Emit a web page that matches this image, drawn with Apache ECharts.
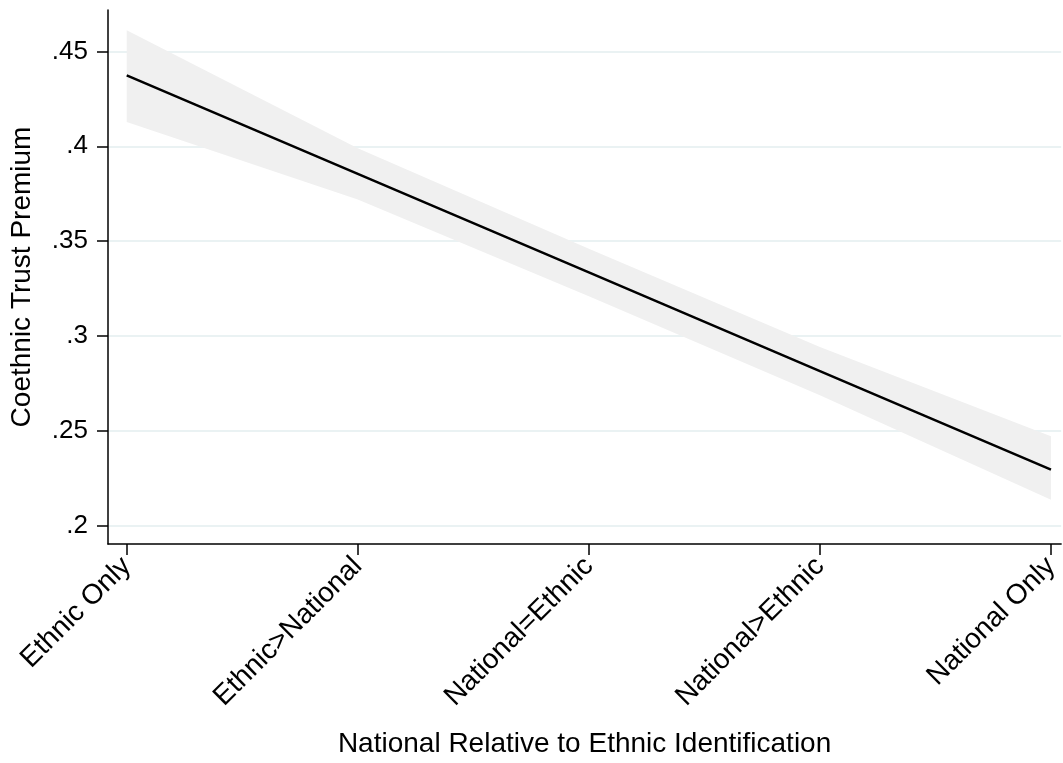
<!DOCTYPE html>
<html>
<head>
<meta charset="utf-8">
<script src="https://cdn.jsdelivr.net/npm/echarts@6/dist/echarts.min.js"></script>
<style>
html,body{margin:0;padding:0;background:#fff;}
#chart{width:1063px;height:763px;}
</style>
</head>
<body>
<div id="chart"></div>
<script>
// Data
var categories = ["Ethnic Only", "Ethnic>National", "National=Ethnic", "National>Ethnic", "National Only"];
var positions = [0, 1, 2, 3, 4];
var predicted = [0.4374, 0.3854, 0.3335, 0.2815, 0.2296];
var ciLower = [0.4128, 0.3719, 0.3210, 0.2688, 0.2137];
var ciUpper = [0.4611, 0.3989, 0.3460, 0.2942, 0.2472];
var yTickValues = [0.2, 0.25, 0.3, 0.35, 0.4, 0.45];
var yTickLabels = [".2", ".25", ".3", ".35", ".4", ".45"];

var FONT = "'Liberation Sans', Arial, Helvetica, sans-serif";

var lineData = positions.map(function (p, i) { return [p, predicted[i]]; });
var bandData = positions.map(function (p, i) { return [p, ciLower[i], ciUpper[i]]; });

var chart = echarts.init(document.getElementById('chart'), null, {renderer: 'canvas'});
chart.setOption({
  animation: false,
  backgroundColor: '#ffffff',
  grid: {left: 108, right: 0, top: 10, bottom: 211, containLabel: false},
  xAxis: {
    type: 'value',
    min: -0.081,
    max: 4.044,
    name: 'National Relative to Ethnic Identification',
    nameLocation: 'middle',
    nameGap: 186,
    nameTextStyle: {color: '#000', fontSize: 28, fontFamily: FONT},
    axisLine: {show: true, onZero: false, lineStyle: {color: '#000', width: 1.5}},
    axisTick: {show: true, length: 11, inside: false, customValues: positions, lineStyle: {color: '#000', width: 1.5}},
    axisLabel: {
      show: true, rotate: 45, margin: 18, color: '#000', fontSize: 28, fontFamily: FONT,
      customValues: positions,
      formatter: function (v) { return categories[Math.round(v)]; }
    },
    splitLine: {show: false}
  },
  yAxis: {
    type: 'value',
    min: 0.1904,
    max: 0.4718,
    name: 'Coethnic Trust Premium',
    nameLocation: 'middle',
    nameGap: 72,
    nameTextStyle: {color: '#000', fontSize: 28, fontFamily: FONT},
    axisLine: {show: true, onZero: false, lineStyle: {color: '#000', width: 1.5}},
    axisTick: {show: true, length: 11, customValues: yTickValues, lineStyle: {color: '#000', width: 1.5}},
    axisLabel: {
      show: true, margin: 20, color: '#000', fontSize: 26, fontFamily: FONT,
      customValues: yTickValues,
      formatter: function (v) {
        var idx = -1;
        for (var i = 0; i < yTickValues.length; i++) { if (Math.abs(yTickValues[i] - v) < 1e-6) idx = i; }
        return idx >= 0 ? yTickLabels[idx] : '';
      }
    },
    splitLine: {show: true, lineStyle: {color: '#eaf2f3', width: 2}}
  },
  series: [
    {
      type: 'custom', name: 'band', data: bandData, silent: true, z: 1,
      encode: {x: 0, y: [1, 2]},
      renderItem: function (params, api) {
        if (params.dataIndex !== 0) return null;
        var pts = [];
        var i;
        for (i = 0; i < bandData.length; i++) pts.push(api.coord([bandData[i][0], bandData[i][2]]));
        for (i = bandData.length - 1; i >= 0; i--) pts.push(api.coord([bandData[i][0], bandData[i][1]]));
        return {type: 'polygon', shape: {points: pts}, style: {fill: '#f0f0f0', stroke: null}};
      }
    },
    {
      type: 'line', name: 'predicted', data: lineData, symbol: 'none',
      lineStyle: {color: '#000', width: 2.5}, z: 3
    }
  ]
});
</script>
</body>
</html>
